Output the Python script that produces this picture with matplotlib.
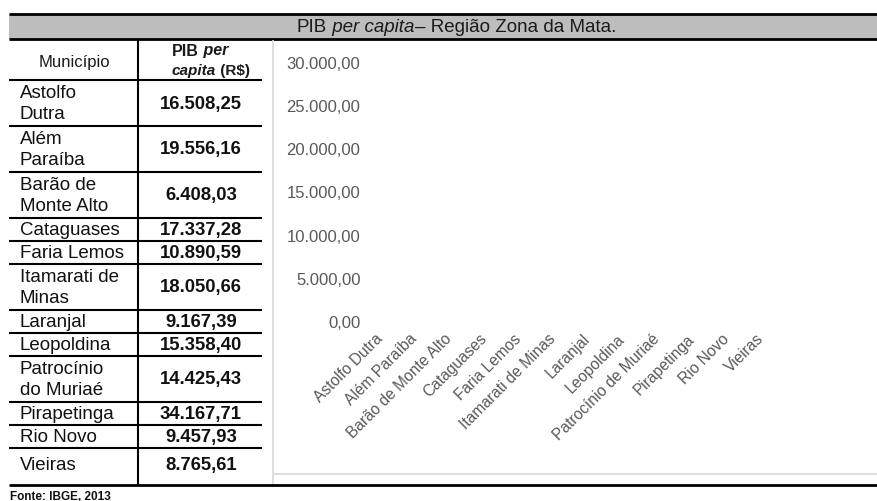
import matplotlib
matplotlib.use('Agg')
import matplotlib.pyplot as plt
from matplotlib.ticker import FuncFormatter, FixedLocator

plt.rcParams['font.family'] = ['Liberation Sans', 'DejaVu Sans']

# dados
municipios = ['Astolfo Dutra', 'Além Paraíba', 'Barão de Monte Alto', 'Cataguases',
              'Faria Lemos', 'Itamarati de Minas', 'Laranjal', 'Leopoldina',
              'Patrocínio de Muriaé', 'Pirapetinga', 'Rio Novo', 'Vieiras']
tabela_nomes = ['Astolfo\nDutra', 'Além\nParaíba', 'Barão de\nMonte Alto', 'Cataguases',
                'Faria Lemos', 'Itamarati de\nMinas', 'Laranjal', 'Leopoldina',
                'Patrocínio\ndo Muriaé', 'Pirapetinga', 'Rio Novo', 'Vieiras']
pib = [16508.25, 19556.16, 6408.03, 17337.28, 10890.59, 18050.66,
       9167.39, 15358.40, 14425.43, 34167.71, 9457.93, 8765.61]
yticks = [0, 5000, 10000, 15000, 20000, 25000, 30000]


def br(v):
    return f'{v:,.2f}'.replace(',', 'X').replace('.', ',').replace('X', '.')


def rich(ax, x, y, pieces, size, color='#1a1a1a'):
    s, st = pieces[0]
    t = ax.text(x, y, s, fontsize=size, va='center', ha='left', color=color, **st)
    for s, st in pieces[1:]:
        t = ax.annotate(s, xycoords=t, xy=(1, 0), va='bottom', ha='left',
                        fontsize=size, color=color, **st)
    return t


W, H = 878, 502
fig = plt.figure(figsize=(W / 100, H / 100), dpi=100)

# camada em pixels para tabela, linhas e textos
ov = fig.add_axes([0, 0, 1, 1])
ov.set_xlim(0, W)
ov.set_ylim(H, 0)
ov.axis('off')

lw = 1.5
# faixa do titulo
ov.fill_between([9, W], 15, 40, color='#bdbdbd', lw=0)
ov.hlines([15, 40], 9, W, color='black', lw=2)
rich(ov, 297, 28, [('PIB', {}), (' per capita', {'style': 'italic'}),
                   ('– Região Zona da Mata.', {})], 13.5)

# cabecalho da tabela
ov.text(74, 62, 'Município', fontsize=12, ha='center', va='center', color='#1a1a1a')
rich(ov, 172, 51, [('PIB', {'weight': 'bold'}),
                   (' per', {'weight': 'bold', 'style': 'italic'})], 11.5)
rich(ov, 172, 71, [('capita', {'weight': 'bold', 'style': 'italic'}),
                   (' (R$)', {'weight': 'bold'})], 11)

y = 81
ov.hlines(y, 9, 262, color='black', lw=lw)
for i, (nome, v) in enumerate(zip(tabela_nomes, pib)):
    h = 23 * (nome.count('\n') + 1)
    yc = y + h / 2
    if i == len(pib) - 1:
        yc += 5
    ov.text(20, yc, nome, fontsize=13.5, ha='left', va='center', color='#111111',
            linespacing=1.35)
    ov.text(201, yc, br(v), fontsize=13.3, ha='center', va='center',
            weight='bold', color='#111111')
    y += h
    if i < len(pib) - 1:
        ov.hlines(y, 9, 262, color='black', lw=lw)

ov.vlines(138, 40, 486, color='black', lw=lw)

# moldura da area do grafico
ov.vlines(273, 41, 486, color='#d9d9d9', lw=1.2)
ov.hlines(475, 273, W, color='#d9d9d9', lw=1.2)
ov.hlines(486, 9, W, color='black', lw=2)

ov.text(10, 497, 'Fonte: IBGE, 2013', fontsize=8.5, weight='bold', ha='left',
        va='center', color='#111111')

# grafico
left, right = 366 / W, 782 / W
bottom, top = 1 - 321.7 / H, 1 - 63.3 / H
ax = fig.add_axes([left, bottom, right - left, top - bottom])
ax.set_facecolor('none')
x = list(range(len(municipios)))
ax.bar(x, pib, color='none', edgecolor='none')
ax.set_xlim(-0.25, len(municipios) - 0.25)
ax.set_ylim(0, 30000)
ax.yaxis.set_major_locator(FixedLocator(yticks))
ax.yaxis.set_major_formatter(FuncFormatter(lambda v, p: br(v)))
ax.set_xticks(x)
ax.set_xticklabels(municipios, rotation=45, ha='right', rotation_mode='anchor',
                   fontsize=11.2, color='#595959')
for lab in ax.get_yticklabels():
    lab.set_color('#595959')
    lab.set_fontsize(12)
ax.tick_params(axis='both', length=0)
ax.tick_params(axis='y', pad=4)
ax.tick_params(axis='x', pad=7)
for s in ax.spines.values():
    s.set_visible(False)

fig.savefig('out.png', dpi=100)
